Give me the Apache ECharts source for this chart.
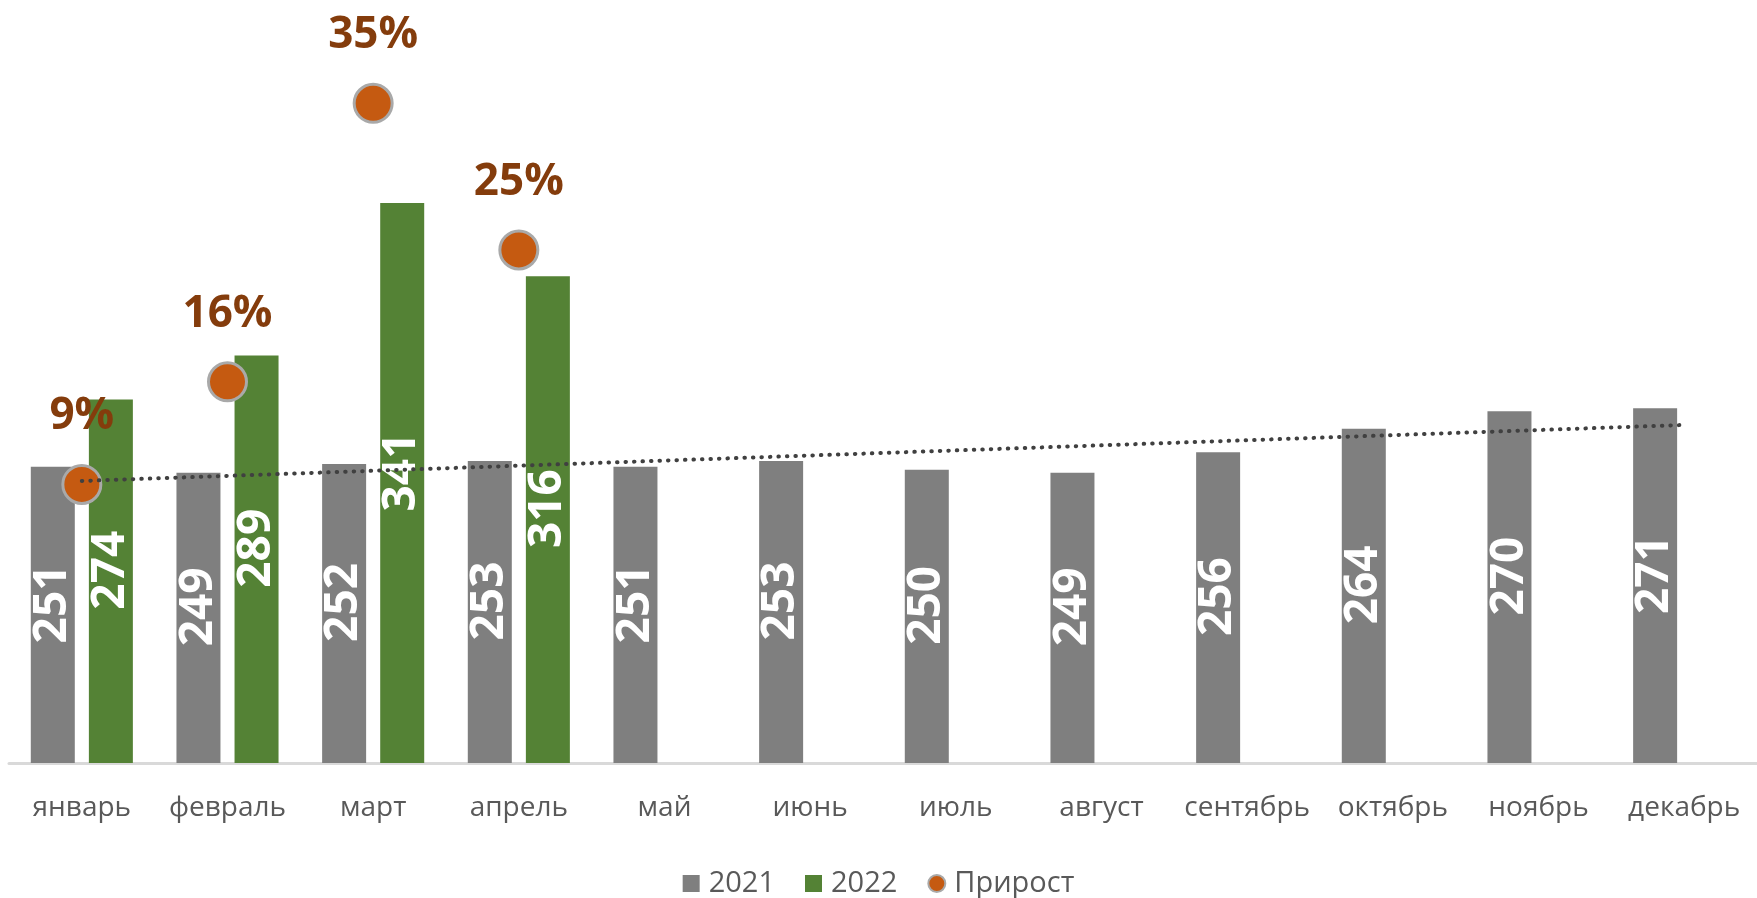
<!DOCTYPE html>
<html>
<head>
<meta charset="utf-8">
<script src="https://cdn.jsdelivr.net/npm/echarts@6/dist/echarts.min.js"></script>
<style>
  html, body { margin: 0; padding: 0; background: #fff; }
  #chart { width: 1757px; height: 898px; }
</style>
</head>
<body>
<div id="chart"></div>
<script>
var months = ['январь', 'февраль', 'март', 'апрель', 'май', 'июнь', 'июль', 'август', 'сентябрь', 'октябрь', 'ноябрь', 'декабрь'];
var sales2021 = [251, 249, 252, 253, 251, 253, 250, 249, 256, 264, 270, 271];
var sales2022 = [274, 289, 341, 316, null, null, null, null, null, null, null, null];
var growth = [9, 16, 35, 25, null, null, null, null, null, null, null, null];
// linear trend of 2021 (start / end)
var trend2021 = [246.2, null, null, null, null, null, null, null, null, null, null, 265.3];

var font = 'Open Sans';

// rotated label: offset is in the label's own frame, x points up the bar
var barLabel = {
  show: true,
  position: 'inside',
  rotate: 90,
  offset: [11, 0],
  color: '#fff',
  fontFamily: font,
  fontWeight: 'bold',
  fontSize: 46
};

var chart = echarts.init(document.getElementById('chart'));
chart.setOption({
  animation: false,
  grid: { left: 9, width: 1756, top: 30, bottom: 135 },
  legend: {
    top: 864,
    left: 'center',
    itemWidth: 17,
    itemHeight: 17,
    itemGap: 30,
    textStyle: { fontFamily: font, fontSize: 29, color: '#595959', padding: [0, 0, 0, 4] },
    data: [
      { name: '2021', icon: 'rect' },
      { name: '2022', icon: 'rect' },
      { name: 'Прирост', icon: 'circle' }
    ]
  },
  xAxis: {
    type: 'category',
    data: months,
    axisLine: { onZero: false, lineStyle: { color: '#D9D9D9', width: 3 } },
    axisTick: { show: false },
    axisLabel: { interval: 0, margin: 31, fontFamily: font, fontSize: 28, color: '#595959' }
  },
  yAxis: [
    { type: 'value', min: 150, max: 400, show: false },
    { type: 'value', min: -10, max: 40, show: false }
  ],
  series: [
    {
      name: '2021',
      type: 'bar',
      data: sales2021,
      barWidth: 44,
      barGap: '32%',
      itemStyle: { color: '#7F7F7F' },
      label: barLabel
    },
    {
      name: '2022',
      type: 'bar',
      data: sales2022,
      barWidth: 44,
      barGap: '32%',
      itemStyle: { color: '#548235' },
      label: barLabel
    },
    {
      name: 'Прирост',
      type: 'scatter',
      yAxisIndex: 1,
      data: growth,
      symbol: 'circle',
      symbolSize: 38,
      z: 4,
      itemStyle: { color: '#C55A11', borderColor: '#A9A9A9', borderWidth: 3, opacity: 1 },
      label: {
        show: true,
        position: 'top',
        distance: 25,
        lineHeight: 44,
        formatter: function (p) { return p.value + '%'; },
        color: '#843C0C',
        fontFamily: font,
        fontWeight: 'bold',
        fontSize: 44
      }
    },
    {
      name: 'trend',
      type: 'line',
      data: trend2021,
      connectNulls: true,
      symbol: 'none',
      silent: true,
      z: 6,
      lineStyle: { color: '#404040', width: 4, type: [0.5, 8], cap: 'round' }
    }
  ]
});
</script>
</body>
</html>
